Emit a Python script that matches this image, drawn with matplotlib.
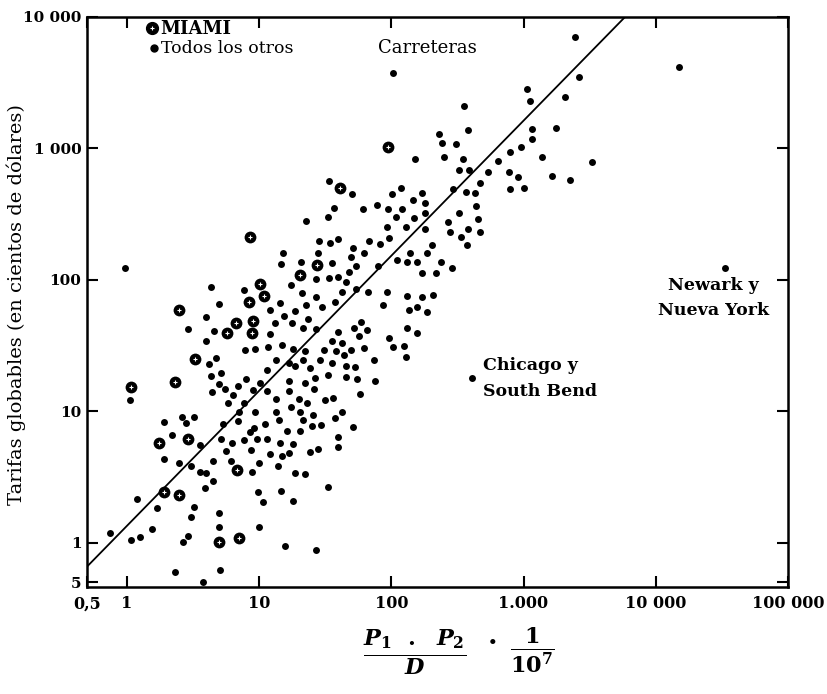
import matplotlib
matplotlib.use('Agg')
import matplotlib.pyplot as plt
import numpy as np
from matplotlib.ticker import NullLocator

# MIAMI routes (x = P1*P2/D/1e7, y = tarifas in hundreds of dollars)
miami = [(94, 1020), (8.5, 212), (40.7, 499), (27.3, 130), (20.3, 109), (10.1, 93),
         (8.4, 68), (10.9, 75), (2.5, 59), (6.7, 47), (9.0, 48.7), (5.7, 39.4),
         (8.8, 39.4), (3.3, 25), (2.3, 16.7), (1.07, 15.3), (1.75, 5.75), (2.9, 6.1),
         (6.8, 3.6), (1.9, 2.44), (2.5, 2.32), (5.0, 1.02), (7.0, 1.09)]

# all the other routes
otros = [
    (15.1, 160), (14.6, 132), (20.7, 137), (0.97, 123),
    (103, 3730), (2440, 7010), (2610, 3480), (1060, 2820), (1110, 2290), (2050, 2450),
    (14900, 4150), (33200, 123), (406, 17.9),
    (1150, 1400), (1150, 1180), (1750, 1430), (1370, 859), (1630, 615), (2230, 574), (3280, 786),
    (353, 2100), (228, 1280), (378, 1380), (241, 1100), (307, 1080), (150, 828), (249, 859),
    (347, 828), (324, 684), (385, 684), (536, 660), (638, 800), (786, 937), (952, 1020),
    (773, 660), (903, 605), (467, 545), (786, 490), (1000, 499), (291, 490), (366, 466),
    (428, 457), (33.7, 564), (50.2, 449), (22.6, 280), (36.7, 352), (33.1, 301), (60.8, 345),
    (77.6, 371), (94.0, 345), (101, 449), (118, 499), (170, 457), (145, 404), (179, 384),
    (120, 345), (179, 322), (108, 301), (148, 295), (92.4, 252), (129, 252), (179, 243),
    (267, 275), (324, 322), (435, 364), (451, 290), (277, 231), (378, 243), (467, 231),
    (335, 212), (372, 184), (28.3, 197), (34.3, 191), (39.4, 204), (67.6, 197), (81.8, 187),
    (95.7, 208), (51.1, 175), (27.8, 160), (61.9, 160), (49.4, 149), (138, 160), (202, 184),
    (185, 160), (35.5, 134), (53.9, 127), (79.0, 127), (110, 142), (131, 137), (156, 137),
    (237, 137), (286, 123),
    (170, 113), (217, 113), (26.8, 101), (33.7, 103), (39.4, 105), (47.7, 115), (45.3, 96),
    (21.0, 79), (26.8, 74), (37.4, 68), (42.2, 81), (53.9, 85), (66.4, 81), (92.4, 81),
    (22.6, 64), (29.8, 62), (86.1, 64), (131, 75), (170, 74), (206, 77), (136, 59), (156, 62),
    (185, 57), (23.4, 50.4), (21.4, 43.1), (26.8, 42.3), (39.4, 40.1), (58.7, 47.8),
    (52.0, 43.1), (65.2, 41.6), (56.8, 37.4), (131, 43.1), (156, 39.4), (95.7, 36.1),
    (35.5, 34.3), (42.2, 33.1), (103, 30.9), (124, 31.4), (129, 25.9), (22.2, 28.8),
    (30.8, 29.3), (38.0, 28.8), (49.4, 29.3), (43.7, 26.8), (61.9, 30.3), (28.8, 24.6),
    (35.5, 23.3), (45.3, 22.1), (52.9, 21.8), (73.7, 24.6), (24.2, 21.4), (33.1, 18.9),
    (26.4, 17.9), (45.3, 18.3), (54.8, 17.6), (75.0, 17.0), (22.2, 16.4), (25.9, 14.8),
    (57.7, 13.6), (31.4, 12.2), (36.1, 12.6), (23.0, 11.6), (42.2, 9.9), (37.4, 8.9),
    (25.5, 9.4), (21.4, 8.6), (25.0, 7.7), (29.3, 7.9), (51.1, 7.6),
    (4.3, 88), (7.7, 84), (17.4, 91), (14.4, 67), (5.0, 66), (12.1, 59), (15.4, 53),
    (18.6, 58), (4.0, 52), (13.2, 47), (17.7, 47), (2.9, 42), (4.6, 41), (12.1, 39),
    (4.0, 34), (14.9, 32), (18.0, 30), (7.8, 29), (9.4, 30), (11.6, 31), (4.2, 23),
    (4.7, 25.5), (13.4, 24.6), (16.8, 23.3), (18.6, 22.1), (21.4, 24.6), (11.4, 20.6),
    (4.3, 18.6), (5.2, 19.6), (7.9, 17.6), (10.1, 16.4), (6.9, 15.6), (5.0, 16.2),
    (5.5, 14.8), (9.0, 14.5), (11.4, 14.3), (16.8, 17.0), (1.05, 12.2), (4.4, 14.1),
    (6.4, 13.3), (7.7, 11.6), (13.4, 12.4), (16.8, 14.3), (20.0, 12.4), (17.4, 10.8),
    (5.8, 11.6), (9.4, 9.9), (7.0, 9.9), (13.4, 9.9), (20.3, 9.9), (1.9, 8.3), (2.6, 9.1),
    (3.2, 9.1), (2.8, 8.2), (5.3, 8.0), (6.9, 8.5), (11.0, 8.0), (14.1, 8.6), (9.1, 7.5),
    (8.5, 6.9), (16.2, 7.1), (20.3, 7.1), (2.2, 6.6), (3.6, 5.5), (5.2, 6.2), (6.2, 5.75),
    (7.7, 6.0), (9.6, 6.1), (11.4, 6.2), (14.4, 5.75), (18.0, 5.6), (5.6, 5.0), (8.7, 5.1),
    (12.1, 4.75), (14.9, 4.6), (16.8, 4.8), (1.9, 4.3), (2.5, 4.06), (3.05, 3.8), (4.5, 4.2),
    (6.1, 4.2), (9.95, 4.06), (13.9, 3.85), (3.6, 3.47), (4.0, 3.4), (8.8, 3.47), (18.6, 3.4),
    (22.2, 3.34), (4.5, 2.96), (3.9, 2.62), (1.2, 2.16), (9.8, 2.44), (14.6, 2.48),
    (10.7, 2.05), (18.0, 2.08), (1.7, 1.85), (3.2, 1.88), (3.05, 1.58), (5.0, 1.69),
    (5.0, 1.32), (9.95, 1.32), (0.74, 1.19), (1.55, 1.26), (1.25, 1.11), (1.07, 1.04),
    (2.9, 1.13), (2.65, 1.02), (15.6, 0.95), (2.3, 0.60), (5.05, 0.62), (3.8, 0.50),
    (39.4, 6.4), (39.4, 5.3), (27.8, 5.2), (24.2, 4.9), (33.1, 2.67), (26.8, 0.88),
]

# fitted line  y = a * x**b
ajuste_a = 1.34
ajuste_b = 1.028

x_ticks = [0.5, 1, 10, 100, 1000, 10000, 100000]
x_labels = ['0,5', '1', '10', '100', '1.000', '10 000', '100 000']
y_ticks = [0.5, 1, 10, 100, 1000, 10000]
y_labels = ['5', '1', '10', '100', '1 000', '10 000']

plt.rcParams['font.family'] = ['DejaVu Serif']
plt.rcParams['mathtext.fontset'] = 'custom'
plt.rcParams['mathtext.rm'] = 'DejaVu Serif:bold'
plt.rcParams['mathtext.it'] = 'DejaVu Serif:italic:bold'
plt.rcParams['mathtext.bf'] = 'DejaVu Serif:bold'

fig = plt.figure(figsize=(8.28, 6.94), dpi=100)
ax = fig.add_axes([87 / 828, 1 - 587 / 694, 701 / 828, 570 / 694])
ax.set_xscale('log')
ax.set_yscale('log')
ax.set_xlim(0.5, 100000)
ax.set_ylim(0.46, 10000)

ox, oy = np.array(otros).T
mx, my = np.array(miami).T
ax.scatter(ox, oy, s=5.0 ** 2, c='black', linewidths=0, zorder=3)
ax.scatter(mx, my, s=8.5 ** 2, c='black', linewidths=0, zorder=3)
ax.scatter(mx, my, s=10, marker='+', c='white', linewidths=0.8, zorder=4)

xs = np.array([0.5, 100000])
ax.plot(xs, ajuste_a * xs ** ajuste_b, color='black', lw=1.3, zorder=2)

ax.set_xticks(x_ticks)
ax.set_xticklabels(x_labels, fontweight='bold', fontsize=11.5)
ax.set_yticks(y_ticks)
ax.set_yticklabels(y_labels, fontweight='bold', fontsize=11)
ax.xaxis.set_minor_locator(NullLocator())
ax.yaxis.set_minor_locator(NullLocator())
ax.tick_params(direction='in', length=8, width=1.5, top=True, right=True, pad=6)
ax.tick_params(axis='y', pad=4)
for s in ax.spines.values():
    s.set_linewidth(1.8)

# legend
ax.plot([0.093], [0.981], 'o', ms=8.5, color='black', transform=ax.transAxes, clip_on=False)
ax.plot([0.093], [0.981], '+', ms=3, mew=0.8, color='white', transform=ax.transAxes, clip_on=False)
ax.text(0.105, 0.979, 'MIAMI', transform=ax.transAxes, fontsize=13, fontweight='bold', va='center')
ax.plot([0.095], [0.946], 'o', ms=5, color='black', transform=ax.transAxes)
ax.text(0.106, 0.944, 'Todos los otros', transform=ax.transAxes, fontsize=12.5, va='center')

ax.text(0.485, 0.946, 'Carreteras', transform=ax.transAxes, fontsize=13, ha='center', va='center')
ax.text(0.894, 0.507, 'Newark y\nNueva York', transform=ax.transAxes, fontsize=12.5,
        fontweight='bold', ha='center', va='center', linespacing=1.65)
ax.text(0.565, 0.366, 'Chicago y\nSouth Bend', transform=ax.transAxes, fontsize=12.5,
        fontweight='bold', ha='left', va='center', linespacing=1.65)

fig.text(16 / 828, 1 - 305 / 694, 'Tarifas globables (en cientos de dólares)', fontsize=14,
         rotation=90, ha='center', va='center')

# x axis label: P1 . P2 / D  ·  1 / 10^7
fig.text(415 / 828, 1 - 652 / 694, r'$\frac{P_1\ \ .\ \ P_2}{D}$', fontsize=23,
         ha='center', va='center')
fig.text(493 / 828, 1 - 643 / 694, '·', fontsize=20, fontweight='bold', ha='center', va='center')
fig.text(532 / 828, 1 - 650 / 694, r'$\frac{1}{10^7}$', fontsize=23, ha='center', va='center')

fig.savefig('out.png', dpi=100)
